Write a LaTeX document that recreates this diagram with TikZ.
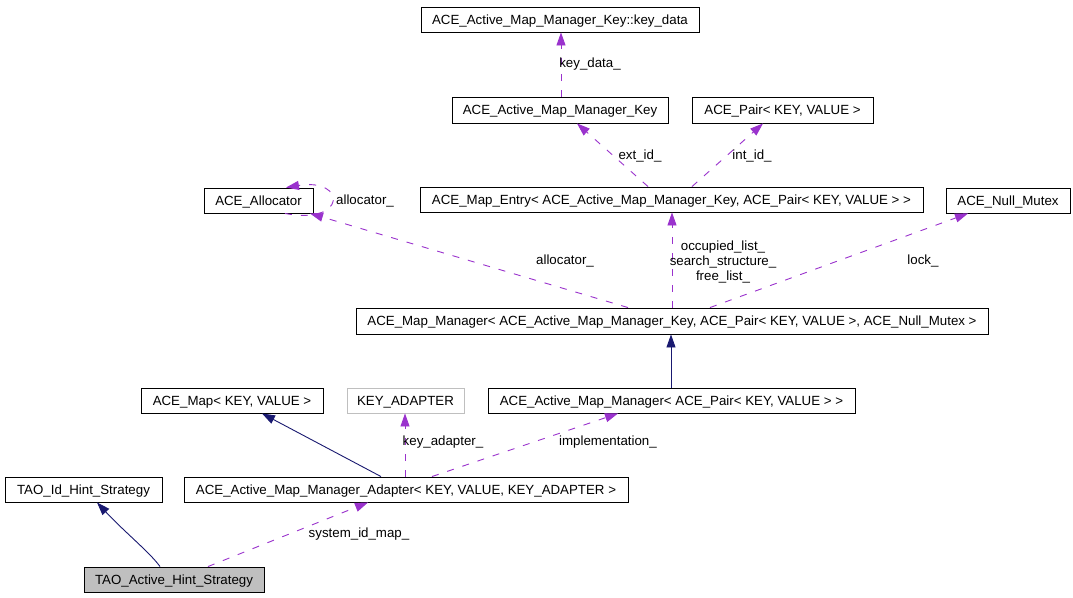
\documentclass[tikz,border=0pt]{standalone}
\usepackage{fontspec}
\setmainfont{Liberation Sans}
\usetikzlibrary{arrows.meta}
\definecolor{inhcol}{HTML}{191970}
\definecolor{usecol}{HTML}{9A32CD}
\definecolor{grayfill}{HTML}{BFBFBF}
\begin{document}
\begin{tikzpicture}[x=1pt,y=-1pt,
  cls/.style={draw=black,line width=0.9pt,fill=white,inner sep=0pt,minimum height=25pt,text height=9.4pt,text depth=0pt,font=\fontsize{13.3}{15}\selectfont},
  lbl/.style={inner sep=0pt,text height=9.4pt,text depth=0pt,font=\fontsize{13.3}{15}\selectfont},
  lblmulti/.style={inner sep=0pt,align=center,font=\fontsize{13.3}{15}\selectfont},
  inh/.style={draw=inhcol,line width=0.9pt,-{Triangle[length=13pt,width=9pt]}},
  use/.style={draw=usecol,line width=0.9pt,dash pattern=on 7pt off 9pt,-{Triangle[length=13pt,width=9pt]}}]
\useasboundingbox[fill=white] (0,0) rectangle (1073,597);
% classes
\node[cls,minimum width=278pt] (keydata) at (560,19.5) {ACE\_Active\_Map\_Manager\_Key::key\_data};
\node[cls,minimum width=216pt,minimum height=26pt] (key) at (560,110) {ACE\_Active\_Map\_Manager\_Key};
\node[cls,minimum width=181pt,minimum height=26pt] (pair) at (782.5,110) {ACE\_Pair< KEY, VALUE >};
\node[cls,minimum width=109pt] (alloc) at (258.5,200.5) {ACE\_Allocator};
\node[cls,minimum width=503pt] (entry) at (671.5,199.5) {ACE\_Map\_Entry< ACE\_Active\_Map\_Manager\_Key, ACE\_Pair< KEY, VALUE > >};
\node[cls,minimum width=124pt] (mutex) at (1008,200.5) {ACE\_Null\_Mutex};
\node[cls,minimum width=632pt,minimum height=26pt] (mgr) at (672,321) {ACE\_Map\_Manager< ACE\_Active\_Map\_Manager\_Key, ACE\_Pair< KEY, VALUE >, ACE\_Null\_Mutex >};
\node[cls,minimum width=182pt] (map) at (232,400.5) {ACE\_Map< KEY, VALUE >};
\node[cls,draw=grayfill,minimum width=117pt] (keyad) at (405.5,400.5) {KEY\_ADAPTER};
\node[cls,minimum width=367pt] (amm) at (671.5,400.5) {ACE\_Active\_Map\_Manager< ACE\_Pair< KEY, VALUE > >};
\node[cls,minimum width=157pt] (tid) at (83.5,489.5) {TAO\_Id\_Hint\_Strategy};
\node[cls,minimum width=444pt] (adapter) at (406,489.5) {ACE\_Active\_Map\_Manager\_Adapter< KEY, VALUE, KEY\_ADAPTER >};
\node[cls,fill=grayfill,minimum width=180pt] (tah) at (174,579.5) {TAO\_Active\_Hint\_Strategy};
% connectors
\draw[use] ([xshift=1pt]key.north) -- ([xshift=1pt]keydata.south);
\draw[use] ([xshift=-23.5pt]entry.north) -- ([xshift=17pt]key.south);
\draw[use] ([xshift=20.5pt]entry.north) -- ([xshift=-19.5pt]pair.south);
\draw[use] ([xshift=26.5pt]alloc.south) .. controls +(62,12) and +(61,-10) .. ([xshift=27.5pt]alloc.north);
\draw[use] ([xshift=-44pt]mgr.north) -- ([xshift=51.5pt]alloc.south);
\draw[use] (mgr.north) -- ([xshift=0.5pt]entry.south);
\draw[use] ([xshift=38pt]mgr.north) -- ([xshift=-40pt]mutex.south);
\draw[inh] ([xshift=-0.5pt]amm.north) -- ([xshift=-1pt]mgr.south);
\draw[inh] ([xshift=-25pt]adapter.north) -- ([xshift=30pt]map.south);
\draw[use] ([xshift=-1pt]adapter.north) -- ([xshift=-0.5pt]keyad.south);
\draw[use] ([xshift=26pt]adapter.north) -- ([xshift=-53.5pt]amm.south);
\draw[inh] ([xshift=-14pt]tah.north) .. controls +(-10,-14) and +(28,30) .. ([xshift=13.5pt]tid.south);
\draw[use] ([xshift=34pt]tah.north) -- ([xshift=-38pt]adapter.south);
% labels
\node[lbl] (lkeydata) at (590,63) {key\_data\_};
\node[lbl] (lext) at (640,155) {ext\_id\_};
\node[lbl] (lint) at (752,155) {int\_id\_};
\node[lbl] (lallocself) at (365,200) {allocator\_};
\node[lbl] (lalloc) at (565,260) {allocator\_};
\node[lblmulti] (lentry) at (723,261.5) {occupied\_list\_\\search\_structure\_\\free\_list\_};
\node[lbl] (llock) at (923,260) {lock\_};
\node[lbl] (lkeyad) at (443,441) {key\_adapter\_};
\node[lbl] (limpl) at (608,441) {implementation\_};
\node[lbl] (lsys) at (359,533) {system\_id\_map\_};
\end{tikzpicture}
\end{document}
